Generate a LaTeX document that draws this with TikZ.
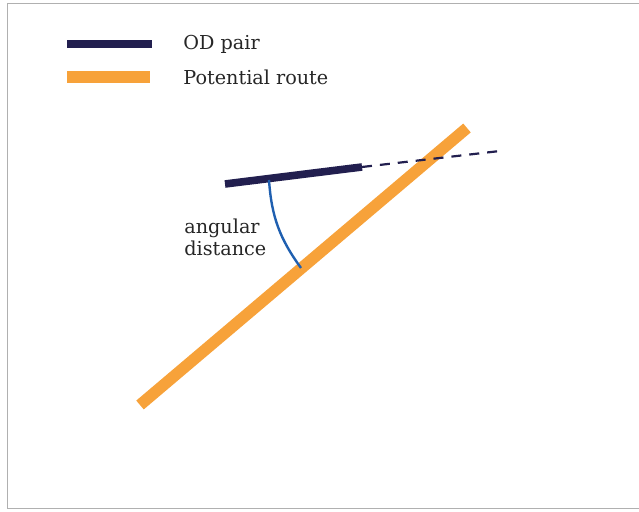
\documentclass[tikz,border=0pt]{standalone}
\usepackage{fontspec}
\setmainfont{DejaVu Serif}
\definecolor{odnavy}{HTML}{221F4F}
\definecolor{routeorange}{HTML}{F7A23A}
\definecolor{arcblue}{HTML}{1F5FB0}
\definecolor{framegray}{HTML}{B0B0B0}
\usepackage{tikz}
\usetikzlibrary{positioning,calc}

\begin{document}
\begin{tikzpicture}[x=0.5pt, y=-0.5pt,
  odline/.style={draw=odnavy, line width=3.8pt},
  routeline/.style={draw=routeorange, line width=5.8pt},
  extline/.style={draw=odnavy, dash pattern=on 5pt off 4pt, line width=1.1pt},
  anglearc/.style={draw=arcblue, line width=1.2pt},
  legtext/.style={anchor=west, inner sep=0pt, font=\fontsize{9.6}{11}\selectfont, text=black!85},
  note/.style={anchor=west, align=left, inner sep=0pt, font=\fontsize{9.6}{11}\selectfont, text=black!85}]
\useasboundingbox (0,0) rectangle (639,512);
\draw[framegray, line width=0.5pt] (639,4) -- (7,4) -- (7,509) -- (639,509);
% legend
\coordinate (k1a) at (67,44);
\coordinate (k1b) at (152,44);
\coordinate (k2a) at (67,77);
\coordinate (k2b) at (150,77);
\draw[odline] (k1a) -- (k1b);
\draw[routeline] (k2a) -- (k2b);
\node[legtext] (lod) at (183,44) {OD pair};
\node[legtext] (lroute) at (183,77) {Potential route};
% route and OD pair
\coordinate (r1) at (140,405);
\coordinate (r2) at (467,128);
\coordinate (o1) at (225,184);
\coordinate (o2) at (362,167);
\coordinate (ox) at (500,151);
\draw[routeline] (r1) -- (r2);
\draw[extline] (o2) -- (ox);
\draw[odline] (o1) -- (o2);
% angular distance
\coordinate (a1) at (269,180);
\coordinate (a2) at (301,268);
\draw[anglearc] (a1) to[bend right=16] (a2);
\node[note] (ang) at (184,237) {angular\\distance};
\end{tikzpicture}
\end{document}
